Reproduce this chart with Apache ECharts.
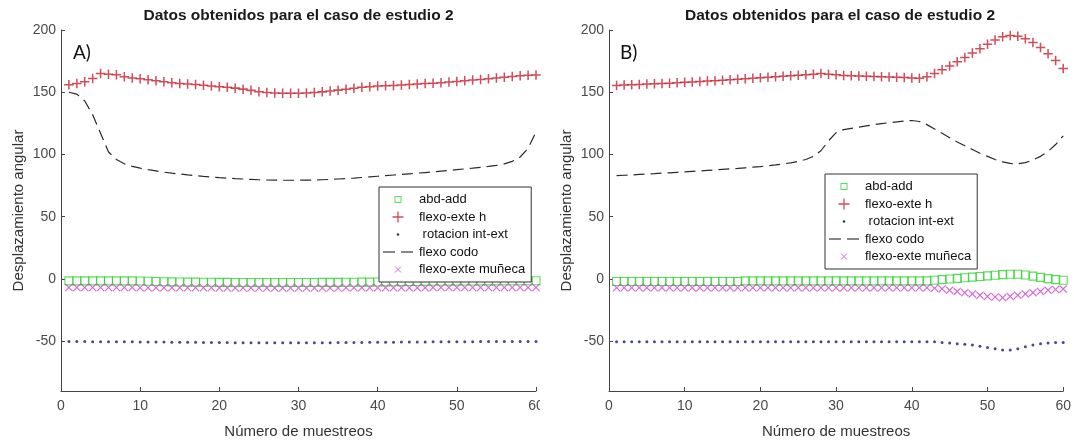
<!DOCTYPE html>
<html>
<head>
<meta charset="utf-8">
<script src="https://cdn.jsdelivr.net/npm/echarts@6/dist/echarts.min.js"></script>
<style>
html,body{margin:0;padding:0;background:#fff;}
#c{width:1074px;height:444px;}
</style>
</head>
<body>
<div id="c"></div>
<script>
// ---- data ----
const muestras = [1,2,3,4,5,6,7,8,9,10,11,12,13,14,15,16,17,18,19,20,21,22,23,24,25,26,27,28,29,30,31,32,33,34,35,36,37,38,39,40,41,42,43,44,45,46,47,48,49,50,51,52,53,54,55,56,57,58,59,60];
const xTicks = [0,10,20,30,40,50,60];
const yTicks = [-50,0,50,100,150,200];
const seriesNames = ['abd-add','flexo-exte h',' rotacion int-ext','flexo codo','flexo-exte muñeca'];
const titleText = 'Datos obtenidos para el caso de estudio 2';
const panelLabels = ['A)','B)'];

// Panel A
const A_abdAdd = [-1.5,-1.5,-1.5,-1.5,-1.5,-1.5,-1.5,-1.5,-1.5,-1.6,-1.8,-2,-2.2,-2.3,-2.4,-2.5,-2.5,-2.6,-2.6,-2.7,-2.7,-2.8,-2.8,-2.8,-2.8,-2.8,-2.8,-2.8,-2.8,-2.8,-2.8,-2.8,-2.7,-2.7,-2.7,-2.6,-2.6,-2.5,-2.5,-2.4,-2.3,-2.2,-2.1,-2,-2,-1.9,-1.8,-1.8,-1.7,-1.7,-1.6,-1.6,-1.5,-1.5,-1.5,-1.4,-1.4,-1.4,-1.4,-1.4];
const A_flexoH = [156,157,158.5,161,165,164.5,164,162.5,161.5,160.8,160,159.2,158.5,157.6,157,156.6,156.2,155.6,155,154.5,154,153.3,152.5,151.5,150.4,149.8,149.3,149.2,149.2,149.2,149.4,149.7,150.3,151,151.7,152.4,153.2,154,154.5,155,155.3,155.5,155.8,156.2,156.6,157,157.2,157.7,158.2,158.7,159.2,159.8,160.3,160.9,161.5,162,162.7,163.3,163.6,163.8];
const A_rotacion = [-50.3,-50.3,-50.3,-50.4,-50.4,-50.4,-50.5,-50.5,-50.5,-50.6,-50.6,-50.7,-50.7,-50.8,-50.8,-50.9,-50.9,-51,-51,-51.1,-51.1,-51.2,-51.2,-51.2,-51.3,-51.3,-51.3,-51.3,-51.3,-51.3,-51.3,-51.2,-51.2,-51.2,-51.1,-51.1,-51,-51,-50.9,-50.9,-50.8,-50.8,-50.7,-50.7,-50.6,-50.6,-50.5,-50.5,-50.5,-50.4,-50.4,-50.4,-50.3,-50.3,-50.3,-50.2,-50.2,-50.2,-50.2,-50.2];
const A_codo = [150,148.5,143,132,117,102,96,92.5,90.5,89,87.8,86.8,85.8,85,84.3,83.6,83,82.4,81.9,81.4,81,80.6,80.3,80,79.7,79.5,79.4,79.3,79.3,79.3,79.4,79.5,79.7,80,80.3,80.7,81,81.5,82,82.5,83,83.5,84,84.5,85,85.5,86,86.6,87.2,87.8,88.4,89,89.7,90.4,91.3,92.5,94.5,98,105,118];
const A_muneca = [-6.8,-6.8,-6.8,-6.8,-6.8,-6.9,-6.9,-6.9,-6.9,-7,-7,-7,-7,-7,-7.1,-7.1,-7.1,-7.1,-7.1,-7.2,-7.2,-7.2,-7.2,-7.2,-7.2,-7.2,-7.2,-7.2,-7.2,-7.2,-7.2,-7.2,-7.2,-7.2,-7.2,-7.1,-7.1,-7.1,-7.1,-7.1,-7,-7,-7,-7,-7,-7,-6.9,-6.9,-6.9,-6.9,-6.9,-6.9,-6.8,-6.8,-6.8,-6.8,-6.8,-6.8,-6.8,-6.8];

// Panel B
const B_abdAdd = [-2,-2,-2,-2,-2,-2,-2,-2,-2,-2,-2,-2,-2,-2,-2,-2,-2,-1.5,-1.5,-1.5,-1.5,-1.5,-1.5,-1.5,-1.5,-1.5,-1.5,-1.5,-1.5,-1.5,-1.5,-1.5,-1.5,-1.5,-1.5,-1.5,-1.5,-1.5,-1.5,-1.5,-1.5,-1.5,-1,-0.5,0,0.5,1,1.5,2,2.5,3,3.5,3.8,3.8,3.2,2.3,1.3,0.3,-0.5,-1];
const B_flexoH = [155.5,155.8,156,156.3,156.6,156.8,157,157.3,157.6,158,158.3,158.6,159,159.3,159.7,160,160.4,160.8,161.2,161.7,162,162.4,162.8,163.2,163.6,164,164.5,165,164.5,164,163.5,163.2,163,162.8,162.6,162.4,162.2,162,161.8,161.5,161.2,162.5,165,168,171,174.5,178,181.5,185,188.5,192,194.5,195.5,195,193,190,186,181,175.5,169];
const B_rotacion = [-50.5,-50.5,-50.5,-50.5,-50.5,-50.5,-50.5,-50.5,-50.5,-50.5,-50.5,-50.5,-50.5,-50.5,-50.5,-50.5,-50.5,-50.5,-50.5,-50.5,-50.5,-50.5,-50.5,-50.5,-50.5,-50.5,-50.5,-50.5,-50.5,-50.5,-50.5,-50.5,-50.5,-50.5,-50.5,-50.5,-50.5,-50.5,-50.5,-50.5,-50.5,-50.5,-50.5,-51,-51.5,-52,-52.5,-53,-54,-55,-56,-57,-57,-56,-54.5,-53,-52,-51.5,-51,-51];
const B_codo = [83,83.3,83.6,84,84.3,84.6,85,85.3,85.7,86,86.4,86.8,87.2,87.6,88,88.4,88.8,89.3,89.8,90.3,90.9,91.6,92.4,93.3,94.4,96,98.5,103,111,117.5,120,121,122,123,124,124.8,125.5,126.2,126.8,127.3,126.5,124,120.5,117,113.5,110,107,104,101,98.5,96,94,92.8,92.5,93.5,95.5,98.5,102.5,108,115];
const B_muneca = [-7,-7,-7,-7,-7,-7,-7,-7,-7,-7,-7,-7,-7,-7,-7,-7,-7,-7,-7,-7,-7,-7,-7,-7,-7,-7,-7,-7,-7,-7,-7,-7,-7,-7,-7,-7,-7,-7,-7,-7,-7,-7,-7.5,-8,-9,-10,-11,-12,-13,-14,-14.5,-15,-14,-13,-12,-11,-10,-9,-8.5,-8];

// ---- styling ----
const C_GREEN = '#2fd62f';
const C_RED = '#c8202f';
const C_BLUE = '#1a1a80';
const C_BLACK = '#2a2a2a';
const C_MAG = '#d040d0';
const PLUS = 'path://M-0.16,-1L0.16,-1L0.16,-0.16L1,-0.16L1,0.16L0.16,0.16L0.16,1L-0.16,1L-0.16,0.16L-1,0.16L-1,-0.16L-0.16,-0.16Z';
const CROSS = 'path://M-1,-0.8L-0.8,-1L0,-0.2L0.8,-1L1,-0.8L0.2,0L1,0.8L0.8,1L0,0.2L-0.8,1L-1,0.8L-0.2,0Z';
function svgIcon(w, h, body){
  return 'image://data:image/svg+xml;charset=utf-8,' + encodeURIComponent('<svg xmlns="http://www.w3.org/2000/svg" width="' + w + '" height="' + h + '" viewBox="0 0 ' + w + ' ' + h + '">' + body + '</svg>');
}
const ICON_SQ = svgIcon(12, 12, '<rect x="3" y="3" width="6" height="6" fill="none" stroke="' + C_GREEN + '" stroke-width="1"/>');
const ICON_PLUS = svgIcon(12, 12, '<path d="M0.5,6H11.5M6,0.5V11.5" stroke="' + C_RED + '" stroke-width="1.3" fill="none"/>');
const ICON_DOT = svgIcon(12, 12, '<circle cx="6" cy="6" r="1.2" fill="#000"/>');
const ICON_DASH = svgIcon(32, 12, '<path d="M1,6H31" stroke="#111" stroke-width="1.2" stroke-dasharray="12,6" fill="none"/>');
const ICON_X = svgIcon(12, 12, '<path d="M3,3L9,9M9,3L3,9" stroke="' + C_MAG + '" stroke-width="1" fill="none"/>');

const FONT = '"Liberation Sans", Arial, sans-serif';

function pairs(ys){ return muestras.map((x,i)=>[x, ys[i]]); }

function panelSeries(idx, abd, flexoH, rot, codo, mun){
  return [
    {name: seriesNames[0], type:'scatter', xAxisIndex: idx, yAxisIndex: idx, data: pairs(abd), symbol:'rect', symbolSize: 8,
     itemStyle:{color:'rgba(255,255,255,0)', borderColor: C_GREEN, borderWidth: 1.1}, silent:true, z:2},
    {name: seriesNames[1], type:'scatter', xAxisIndex: idx, yAxisIndex: idx, data: pairs(flexoH), symbol: PLUS, symbolSize: 9.5,
     itemStyle:{color: C_RED}, silent:true, z:3},
    {name: seriesNames[2], type:'scatter', xAxisIndex: idx, yAxisIndex: idx, data: pairs(rot), symbol:'circle', symbolSize: 3,
     itemStyle:{color: C_BLUE}, silent:true, z:3},
    {name: seriesNames[3], type:'line', xAxisIndex: idx, yAxisIndex: idx, data: pairs(codo), symbol:'none', showSymbol:false,
     lineStyle:{color: C_BLACK, width: 1.2, type:[11,6]}, itemStyle:{color: C_BLACK}, silent:true, z:3},
    {name: seriesNames[4], type:'scatter', xAxisIndex: idx, yAxisIndex: idx, data: pairs(mun), symbol: CROSS, symbolSize: 8,
     itemStyle:{color: C_MAG}, silent:true, z:3}
  ];
}

function xAx(idx){
  return {gridIndex: idx, type:'value', min: xTicks[0], max: xTicks[xTicks.length-1], interval: 10,
    name:'Número de muestreos', nameLocation:'middle', nameGap: 33,
    nameTextStyle:{fontFamily: FONT, fontSize: 15, color:'#333'},
    axisLine:{show:true, onZero:false, lineStyle:{color:'#454545', width:1}},
    axisTick:{show:true, inside:true, length:4, lineStyle:{color:'#454545'}},
    axisLabel:{fontFamily: FONT, fontSize: 14, color:'#4a4a4a', margin: 8},
    splitLine:{show:false}};
}
function yAx(idx){
  return {gridIndex: idx, type:'value', min: -90, max: 200,
    name:'Desplazamiento angular', nameLocation:'middle', nameGap: 35,
    nameTextStyle:{fontFamily: FONT, fontSize: 15, color:'#333'},
    axisLine:{show:true, onZero:false, lineStyle:{color:'#454545', width:1}},
    axisTick:{show:true, inside:true, length:4, lineStyle:{color:'#454545'}, customValues: yTicks},
    axisLabel:{fontFamily: FONT, fontSize: 14, color:'#4a4a4a', margin: 5, customValues: yTicks},
    splitLine:{show:false}};
}
function legendFor(left, top){
  return {
    orient:'vertical', left: left, top: top, align:'left',
    backgroundColor:'#fff', borderColor:'#333', borderWidth:1, borderRadius:0,
    padding:[6,6,6,3], itemGap: 4.5, itemWidth: 32, itemHeight: 12,
    symbolKeepAspect: true, selectedMode: false,
    textStyle:{fontFamily: FONT, fontSize: 13, color:'#111'},
    data:[
      {name: seriesNames[0], icon: ICON_SQ},
      {name: seriesNames[1], icon: ICON_PLUS},
      {name: seriesNames[2], icon: ICON_DOT},
      {name: seriesNames[3], icon: ICON_DASH},
      {name: seriesNames[4], icon: ICON_X}
    ]
  };
}

const chart = echarts.init(document.getElementById('c'), null, {renderer:'canvas'});
chart.setOption({
  animation:false,
  backgroundColor:'#fff',
  grid:[
    {left: 61, top: 30, width: 475, height: 368},
    {left: 609, top: 30, width: 461, height: 368}
  ],
  xAxis:[xAx(0), xAx(1)],
  yAxis:[yAx(0), yAx(1)],
  legend:[legendFor(379, 187), legendFor(825, 174)],
  series: panelSeries(0, A_abdAdd, A_flexoH, A_rotacion, A_codo, A_muneca)
          .concat(panelSeries(1, B_abdAdd, B_flexoH, B_rotacion, B_codo, B_muneca)),
  graphic:[
    {type:'text', x: 298.5, y: 16, style:{text: titleText, fontFamily: FONT, fontSize: 15.5, fontWeight:'bold', fill:'#1a1a1a', textAlign:'center', textVerticalAlign:'middle'}},
    {type:'text', x: 840, y: 16, style:{text: titleText, fontFamily: FONT, fontSize: 15.5, fontWeight:'bold', fill:'#1a1a1a', textAlign:'center', textVerticalAlign:'middle'}},
    {type:'text', x: 73, y: 53, style:{text: panelLabels[0], fontFamily:'Lato, "Open Sans", sans-serif', fontSize: 19, fill:'#111', textAlign:'left', textVerticalAlign:'middle'}},
    {type:'text', x: 620, y: 53, style:{text: panelLabels[1], fontFamily:'Lato, "Open Sans", sans-serif', fontSize: 19, fill:'#111', textAlign:'left', textVerticalAlign:'middle'}},
    {type:'rect', shape:{x: 540, y: 399, width: 12, height: 26}, style:{fill:'#fff'}, z: 100}
  ]
});
</script>
</body>
</html>
